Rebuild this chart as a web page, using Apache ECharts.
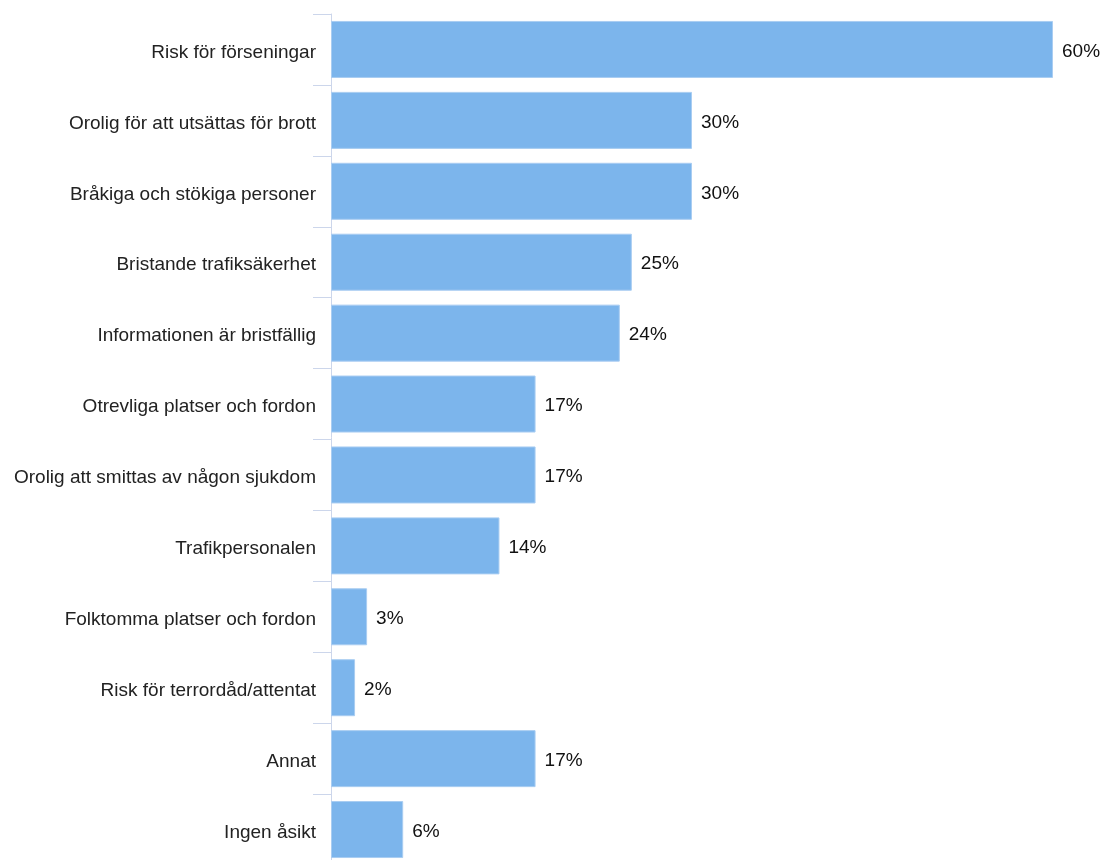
<!DOCTYPE html>
<html>
<head>
<meta charset="utf-8">
<script src="https://cdn.jsdelivr.net/npm/echarts@6/dist/echarts.min.js"></script>
<style>
  html, body { margin: 0; padding: 0; background: #fff; }
  #chart { width: 1104px; height: 860px; }
</style>
</head>
<body>
<div id="chart"></div>
<script>
// Reasons given, in display order (top to bottom)
const categories = [
  'Risk för förseningar',
  'Orolig för att utsättas för brott',
  'Bråkiga och stökiga personer',
  'Bristande trafiksäkerhet',
  'Informationen är bristfällig',
  'Otrevliga platser och fordon',
  'Orolig att smittas av någon sjukdom',
  'Trafikpersonalen',
  'Folktomma platser och fordon',
  'Risk för terrordåd/attentat',
  'Annat',
  'Ingen åsikt'
];

// Share of respondents, percent
const shares = [60, 30, 30, 25, 24, 17, 17, 14, 3, 2, 17, 6];

const chart = echarts.init(document.getElementById('chart'), null, { renderer: 'canvas' });

chart.setOption({
  animation: false,
  grid: {
    left: 331, width: 722, top: 14, height: 851,
    containLabel: false,
    outerBoundsMode: 'none'
  },
  xAxis: {
    type: 'value',
    min: 0,
    max: 60,
    show: false
  },
  yAxis: {
    type: 'category',
    data: categories,
    inverse: true,
    axisLine: { show: true, lineStyle: { color: '#ccd6eb', width: 1 } },
    axisTick: { show: true, length: 18, lineStyle: { color: '#ccd6eb', width: 1 } },
    axisLabel: {
      margin: 15,
      color: '#222',
      fontFamily: 'Liberation Sans, Arial, sans-serif',
      fontSize: 19,
      // a short line box hung from the band centre nudges the text a few px down
      verticalAlign: 'top',
      lineHeight: 6
    },
    splitLine: { show: false }
  },
  series: [{
    type: 'bar',
    data: shares,
    barWidth: 57,
    itemStyle: { color: '#7cb5ec', borderColor: '#a9cdf2', borderWidth: 1 },
    label: {
      show: true,
      position: 'right',
      distance: 9,
      formatter: p => p.value + '%',
      color: '#111',
      fontFamily: 'Liberation Sans, Arial, sans-serif',
      fontSize: 19,
      verticalAlign: 'top',
      lineHeight: 4
    }
  }]
});
</script>
</body>
</html>
